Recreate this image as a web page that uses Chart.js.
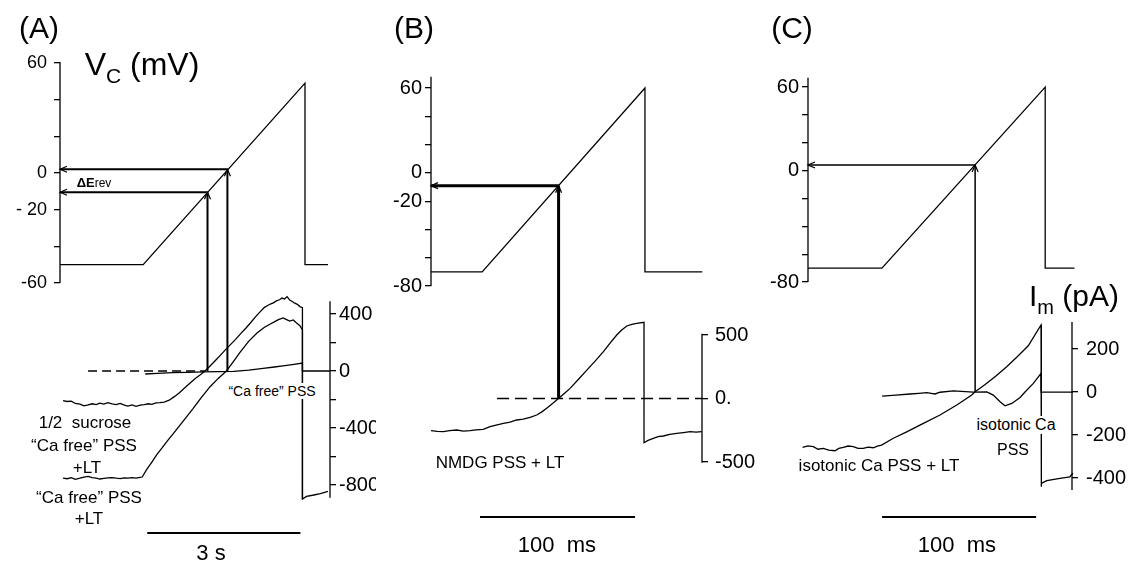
<!DOCTYPE html>
<html>
<head>
<meta charset="utf-8">
<script src="https://cdn.jsdelivr.net/npm/chart.js@4.4.1/dist/chart.umd.min.js"></script>
<style>
body { margin: 0; background: #fff; width: 1129px; height: 568px; position: relative; overflow: hidden;
       font-family: 'Liberation Sans', Arial, sans-serif; color: #000; }
canvas { position: absolute; top: 0; }
.t { position: absolute; white-space: pre; line-height: 1; transform: translate(-50%, -50%); }
.bg { background: #fff; padding: 1px 2px; }
</style>
</head>
<body>
<canvas id="panelA" width="376" height="568" style="left:0"></canvas>
<canvas id="panelB" width="380" height="568" style="left:376px"></canvas>
<canvas id="panelC" width="373" height="568" style="left:756px"></canvas>

<div class="t" style="left:39px;top:28px;font-size:30px">(A)</div>
<div class="t" style="left:414px;top:28px;font-size:30px">(B)</div>
<div class="t" style="left:792px;top:28px;font-size:30px">(C)</div>
<div class="t" style="left:142px;top:64px;font-size:32px">V<span style="font-size:21px;position:relative;top:8px">C</span> (mV)</div>
<div class="t" style="left:1074px;top:296px;font-size:30px">I<span style="font-size:20px;position:relative;top:8px">m</span> (pA)</div>
<div class="t" style="left:94px;top:182px;font-size:13px;font-weight:bold">ΔE<span style="font-size:12px;font-weight:normal">rev</span></div>

<div class="t" style="left:85px;top:422px;font-size:17px">1/2  sucrose</div>
<div class="t" style="left:84px;top:445px;font-size:17px">“Ca free” PSS</div>
<div class="t" style="left:87px;top:467px;font-size:17px">+LT</div>
<div class="t" style="left:89px;top:497px;font-size:17px">“Ca free” PSS</div>
<div class="t" style="left:89px;top:518px;font-size:17px">+LT</div>
<div class="t bg" style="left:272px;top:391px;font-size:14px">“Ca free” PSS</div>
<div class="t" style="left:211px;top:553px;font-size:22px">3 s</div>

<div class="t" style="left:500px;top:462px;font-size:17px">NMDG PSS + LT</div>
<div class="t" style="left:557px;top:545px;font-size:22px">100  ms</div>

<div class="t" style="left:879px;top:465px;font-size:17px">isotonic Ca PSS + LT</div>
<div class="t bg" style="left:1016px;top:425px;font-size:16px">isotonic Ca</div>
<div class="t" style="left:1013px;top:450px;font-size:16px">PSS</div>
<div class="t" style="left:957px;top:545px;font-size:22px">100  ms</div>

<script>
// ---------- panel A (time in s, Vc in mV, Im in pA) ----------
const vTimeA = [0, 1.63, 4.80, 4.80, 5.25];
const vStepA = [-50, -50, 49, -50, -50];

const sucroseTimeA = [0.06,0.14,0.22,0.30,0.39,0.47,0.55,0.63,0.71,0.78,0.86,0.94,1.02,1.10,1.18,1.26,1.33,1.41,1.49,1.57,
  1.65,1.73,1.80,1.88,1.96,2.04,2.14,2.24,2.34,2.44,2.55,2.65,2.75,2.84,2.94,3.04,3.14,3.24,3.34,3.44,3.54,3.64,3.73,3.83,
  3.92,4.00,4.06,4.12,4.18,4.24,4.30,4.35,4.40,4.45,4.50,4.55,4.60,4.65,4.70,4.75,4.75];
const sucroseA = [-208,-214,-212,-228,-232,-245,-238,-230,-236,-226,-232,-222,-230,-236,-228,-240,-246,-238,-248,-240,
  -236,-230,-234,-224,-222,-218,-205,-180,-152,-120,-84,-52,-26,0,35,72,110,148,185,222,262,300,337,380,
  415,445,458,470,478,492,500,512,505,522,498,488,476,468,452,445,-898];

const caFreeLtTimeA = [0.06,0.14,0.22,0.30,0.39,0.47,0.55,0.63,0.71,0.78,0.86,0.94,1.02,1.10,1.18,1.26,1.33,1.41,1.49,1.57,
  1.61,1.70,1.80,1.90,2.00,2.10,2.22,2.34,2.46,2.61,2.76,2.94,3.10,3.26,3.40,3.53,3.70,3.86,4.00,4.12,
  4.20,4.28,4.37,4.43,4.50,4.57,4.63,4.70,4.75,4.75,4.83,4.95,5.10,5.25];
const caFreeLtA = [-751,-756,-748,-760,-752,-744,-740,-748,-752,-758,-754,-750,-748,-752,-755,-750,-752,-748,-752,-746,
  -744,-690,-640,-585,-540,-492,-440,-385,-330,-262,-190,-110,-52,0,68,133,210,267,305,330,
  345,360,372,362,350,358,338,318,288,-898,-880,-872,-860,-845];

const caFreeTimeA = [1.67,1.90,2.20,2.50,2.80,3.10,3.40,3.70,3.98,4.20,4.37,4.55,4.75,4.75,5.29];
const caFreeA = [-21,-16,-12,-9,-6,-4,-2,6,18,28,36,45,56,0,0];

const zeroDashA = [0.55, 2.84];
const reversalA = [{t: 2.89, v: -10.5}, {t: 3.28, v: 2}];
const scaleBarA = {start: 1.71, length: 3, level: -1137};

const vTicksA = [60, 40, 20, 0, -20, -40, -60];
const vLabelsA = ['60', '', '', '0', '- 20', '', '-60'];
const iTicksA = [400, 200, 0, -200, -400, -600, -800];
const iLabelsA = ['400', '', '0', '', '-400', '', '-800'];

// ---------- panel B (time in ms) ----------
const vTimeB = [0, 33, 138, 138, 175];
const vStepB = [-70, -70, 60, -70, -70];

const nmdgTimeB = [0,4,8,12,16.6,21,25.2,29,33.7,38.1,42,46.7,51,55.3,59.5,63.9,68.2,71.5,74.6,78.4,
  82.2,86,89.7,95,100.5,106,111.2,115.5,119.8,123,126.3,129.5,132.7,137.4,137.4,140,143.4,146.5,149.9,154,
  158.5,162.8,167.1,171,174.6];
const nmdgB = [-253,-258,-261,-252,-248,-256,-253,-247,-243,-222,-210,-196,-186,-169,-162,-148,-130,-105,-77,-40,
  0,40,80,150,224,296,369,436,500,540,571,584,592,600,-348,-330,-314,-300,-295,-282,
  -274,-268,-261,-264,-261];

const zeroDashB = [42.6, 174.8];
const reversalB = [{t: 82.3, v: -9}];
const scaleBarB = {start: 31.6, length: 100, level: -933};

const vTicksB = [60, 40, 20, 0, -20, -40, -60, -80];
const vLabelsB = ['60', '', '', '0', '-20', '', '', '-80'];
const iTicksB = [500, 0, -500];
const iLabelsB = ['500', '0.', '-500'];

// ---------- panel C (time in ms) ----------
const vTimeC = [0, 48, 154, 154, 173];
const vStepC = [-70, -70, 60, -70, -70];

const isoLtTimeC = [-3.5,0,3.5,6.5,9.9,13.5,17.5,20,22.9,26,29.4,32.5,35.9,39,42.4,45,47.8,55.4,64.1,74.9,
  85.7,96.6,106.3,108.3,115,122,129,136,143,151.3,151.3,151.7,155,163.6,170,172];
const isoLtC = [-257,-250,-254,-266,-262,-270,-273,-262,-257,-251,-254,-262,-262,-256,-259,-252,-247,-215,-185,-146,
  -107,-60,-14,0,35,75,118,165,215,312,-440,-425,-412,-401,-394,-377];

const isoTimeC = [48.1,57,66.2,72,77.1,80,82.5,85.7,94.4,107.4,116.1,120.3,124.7,127.9,132.3,137.7,140.9,146.3,151.3,151.3,172];
const isoC = [-19,-14,-9,-6,-3,-6,-9,-1,5,0,1,-14,-45,-64,-53,-25,0,40,87,0,0];

const reversalC = [{t: 108.5, v: 4}];
const scaleBarC = {start: 48.1, length: 100, level: -581};

const vTicksC = [60, 40, 20, 0, -20, -40, -60, -80];
const vLabelsC = ['60', '', '', '0', '', '', '', '-80'];
const iTicksC = [200, 0, -200, -400];
const iLabelsC = ['200', '0', '-200', '-400'];

// ---------- drawing ----------
Chart.defaults.font.family = "'Liberation Sans', Arial, sans-serif";
Chart.defaults.color = '#000';

const trace = (ts, vals, axis, extra) => Object.assign({
  data: ts.map((t, k) => ({x: t, y: vals[k]})),
  yAxisID: axis, borderColor: '#000', borderWidth: 1.3,
  pointRadius: 0, tension: 0, fill: false, clip: false
}, extra || {});

const flat = (range, level, axis, extra) => trace(range, [level, level], axis, extra);
const bar = (sb) => trace([sb.start, sb.start + sb.length], [sb.level, sb.level], 'yI', {borderWidth: 2});

// axis spines and the reversal-potential arrows (voltage ramp -> current zero)
const decor = {
  id: 'decor',
  afterDatasetsDraw(chart, args, opts) {
    const ctx = chart.ctx, ca = chart.chartArea;
    const x = chart.scales.x, yV = chart.scales.yV, yI = chart.scales.yI;
    ctx.save();
    ctx.strokeStyle = '#000';
    ctx.lineWidth = 1.3;
    ctx.beginPath();
    ctx.moveTo(ca.left, yV.getPixelForValue(opts.vSpine[0]));
    ctx.lineTo(ca.left, yV.getPixelForValue(opts.vSpine[1]));
    ctx.moveTo(ca.right, yI.getPixelForValue(opts.iSpine[0]));
    ctx.lineTo(ca.right, yI.getPixelForValue(opts.iSpine[1]));
    ctx.stroke();

    opts.arrows.forEach(a => {
      const x0 = ca.left, x1 = x.getPixelForValue(a.t);
      const y1 = yV.getPixelForValue(a.v), y2 = yI.getPixelForValue(0);
      ctx.lineWidth = opts.arrowWidth;
      ctx.beginPath();
      ctx.moveTo(x0, y1); ctx.lineTo(x1, y1);
      ctx.moveTo(x1, y1); ctx.lineTo(x1, y2);
      ctx.stroke();
      ctx.lineWidth = 1.2;
      ctx.beginPath();
      ctx.moveTo(x0 + 7, y1 - 3); ctx.lineTo(x0, y1); ctx.lineTo(x0 + 7, y1 + 3);
      ctx.moveTo(x1 - 3, y1 + 7); ctx.lineTo(x1, y1); ctx.lineTo(x1 + 3, y1 + 7);
      ctx.stroke();
    });
    ctx.restore();
  }
};

function axis(position, range, ticks, labels, width, size, pad) {
  return {
    type: 'linear', position, min: range[0], max: range[1],
    afterBuildTicks: s => { s.ticks = ticks.map(v => ({value: v})); },
    afterFit: s => { s.width = width; },
    ticks: { autoSkip: false, padding: pad, font: {size}, color: '#000',
             callback: v => labels[ticks.indexOf(v)] || '' },
    grid: { drawOnChartArea: false, drawTicks: true, tickLength: 6, color: '#000', lineWidth: 1.3 },
    border: { display: false }
  };
}

function panel(id, p) {
  return new Chart(document.getElementById(id), {
    type: 'line',
    data: { datasets: p.datasets },
    options: {
      responsive: false, animation: false, events: [],
      layout: { padding: { top: 40, bottom: 28, left: 0, right: 0 } },
      plugins: { legend: {display: false}, tooltip: {enabled: false}, decor: p.decor },
      scales: {
        x: { type: 'linear', display: false, min: p.xRange[0], max: p.xRange[1] },
        yV: axis('left', p.vRange, p.vTicks, p.vLabels, p.vWidth, p.vFont, p.vPad),
        yI: axis('right', p.iRange, p.iTicks, p.iLabels, p.iWidth, 20, p.iPad)
      }
    },
    plugins: [decor]
  });
}

panel('panelA', {
  xRange: [0, 5.29], vRange: [-200.2, 72.5], iRange: [-1186, 2323],
  vTicks: vTicksA, vLabels: vLabelsA, iTicks: iTicksA, iLabels: iLabelsA,
  vWidth: 60, iWidth: 46, vFont: 18, vPad: 7, iPad: 3,
  decor: { vSpine: [60.5, -60], iSpine: [490, -890], arrows: reversalA, arrowWidth: 2 },
  datasets: [
    trace(vTimeA, vStepA, 'yV'),
    trace(sucroseTimeA, sucroseA, 'yI'),
    trace(caFreeLtTimeA, caFreeLtA, 'yI'),
    trace(caFreeTimeA, caFreeA, 'yI'),
    flat(zeroDashA, 0, 'yI', {borderDash: [9, 5]}),
    bar(scaleBarA)
  ]
});

panel('panelB', {
  xRange: [0, 174.8], vRange: [-259.6, 94.0], iRange: [-1114, 2823],
  vTicks: vTicksB, vLabels: vLabelsB, iTicks: iTicksB, iLabels: iLabelsB,
  vWidth: 55, iWidth: 54, vFont: 20, vPad: 3, iPad: 7,
  decor: { vSpine: [68, -80], iSpine: [510, -505], arrows: reversalB, arrowWidth: 3 },
  datasets: [
    trace(vTimeB, vStepB, 'yV'),
    trace(nmdgTimeB, nmdgB, 'yI'),
    flat(zeroDashB, 0, 'yI', {borderDash: [12, 6]}),
    bar(scaleBarB)
  ]
});

panel('panelC', {
  xRange: [0, 171.4], vRange: [-265.2, 93.8], iRange: [-688, 1637],
  vTicks: vTicksC, vLabels: vLabelsC, iTicks: iTicksC, iLabels: iLabelsC,
  vWidth: 52, iWidth: 57, vFont: 20, vPad: 3, iPad: 8,
  decor: { vSpine: [66.7, -80], iSpine: [326, -456], arrows: reversalC, arrowWidth: 1.5 },
  datasets: [
    trace(vTimeC, vStepC, 'yV'),
    trace(isoLtTimeC, isoLtC, 'yI'),
    trace(isoTimeC, isoC, 'yI'),
    bar(scaleBarC)
  ]
});
</script>
</body>
</html>
